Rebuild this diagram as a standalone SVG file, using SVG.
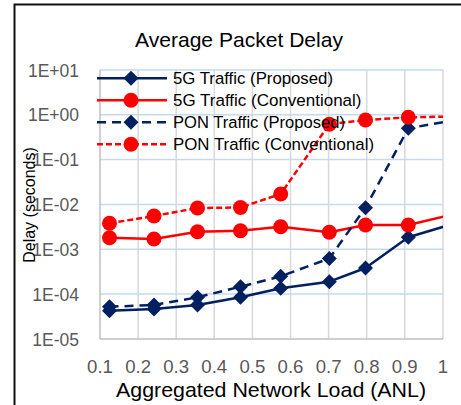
<svg xmlns="http://www.w3.org/2000/svg" width="461" height="405" viewBox="0 0 461 405">
  <style>
    text { font-family: "Liberation Sans", Arial, sans-serif; }
    .title { font-size: 21px; fill: #000; }
    .ytick { font-size: 17.5px; fill: #595959; text-anchor: end; }
    .xtick { font-size: 18.6px; fill: #595959; text-anchor: middle; }
    .axtitle { fill: #000; }
    .leg { font-size: 16.7px; fill: #000; }
    .hgrid { stroke: #c5d9f0; stroke-width: 1.5; }
    .vgrid { stroke: #d9d9d9; stroke-width: 1.5; }
    .axis { stroke: #bfbfbf; stroke-width: 1.5; }
    .s-navy { fill: none; stroke: #002060; stroke-width: 2.5; stroke-linejoin: round; }
    .s-red { fill: none; stroke: #ff0000; stroke-width: 2.5; stroke-linejoin: round; }
    .dash-navy { stroke-dasharray: 9 6; }
    .dash-red { stroke-dasharray: 6 3; }
  </style>
  <defs>
    <clipPath id="plot-clip">
      <rect x="100" y="60" width="343" height="290"/>
    </clipPath>
    <marker id="diamond" viewBox="-8 -8 16 16" markerWidth="16" markerHeight="16" refX="0" refY="0" markerUnits="userSpaceOnUse">
      <path d="M0,-7.5 L7.5,0 L0,7.5 L-7.5,0 Z" fill="#002060"/>
    </marker>
    <marker id="dot" viewBox="-8 -8 16 16" markerWidth="16" markerHeight="16" refX="0" refY="0" markerUnits="userSpaceOnUse">
      <circle cx="0" cy="0" r="7.5" fill="#ff0000"/>
    </marker>
  </defs>

  <rect width="461" height="405" fill="#fff"/>

  <!-- chart frame (continues past the right and bottom edges) -->
  <path d="M14.5,405 V4.5 H461" fill="none" stroke="#111" stroke-width="2"/>

  <!-- title -->
  <text class="title" x="135" y="47" textLength="208" lengthAdjust="spacingAndGlyphs">Average Packet Delay</text>

  <!-- grid -->
  <g id="grid">
    <line class="vgrid" x1="138.1" y1="70" x2="138.1" y2="339"/>
    <line class="vgrid" x1="176.2" y1="70" x2="176.2" y2="339"/>
    <line class="vgrid" x1="214.3" y1="70" x2="214.3" y2="339"/>
    <line class="vgrid" x1="252.4" y1="70" x2="252.4" y2="339"/>
    <line class="vgrid" x1="290.5" y1="70" x2="290.5" y2="339"/>
    <line class="vgrid" x1="328.6" y1="70" x2="328.6" y2="339"/>
    <line class="vgrid" x1="366.7" y1="70" x2="366.7" y2="339"/>
    <line class="vgrid" x1="404.8" y1="70" x2="404.8" y2="339"/>
    <line class="vgrid" x1="443" y1="70" x2="443" y2="339"/>
    <line class="hgrid" x1="100" y1="70" x2="443" y2="70"/>
    <line class="hgrid" x1="100" y1="114.8" x2="443" y2="114.8"/>
    <line class="hgrid" x1="100" y1="159.6" x2="443" y2="159.6"/>
    <line class="hgrid" x1="100" y1="204.5" x2="443" y2="204.5"/>
    <line class="hgrid" x1="100" y1="249.3" x2="443" y2="249.3"/>
    <line class="hgrid" x1="100" y1="294.1" x2="443" y2="294.1"/>
    <line class="axis" x1="100" y1="339" x2="443" y2="339"/>
    <line class="axis" x1="100" y1="70" x2="100" y2="339"/>
  </g>

  <!-- y axis tick labels -->
  <g id="y-axis">
    <text class="ytick" x="79" y="76.5">1E+01</text>
    <text class="ytick" x="79" y="121.3">1E+00</text>
    <text class="ytick" x="79" y="166.1">1E-01</text>
    <text class="ytick" x="79" y="211">1E-02</text>
    <text class="ytick" x="79" y="255.8">1E-03</text>
    <text class="ytick" x="79" y="300.6">1E-04</text>
    <text class="ytick" x="79" y="345.5">1E-05</text>
    <text class="axtitle" font-size="16" transform="translate(35,205) rotate(-90)" text-anchor="middle">Delay (seconds)</text>
  </g>

  <!-- x axis tick labels -->
  <g id="x-axis">
    <text class="xtick" x="100" y="373">0.1</text>
    <text class="xtick" x="138.1" y="373">0.2</text>
    <text class="xtick" x="176.2" y="373">0.3</text>
    <text class="xtick" x="214.3" y="373">0.4</text>
    <text class="xtick" x="252.4" y="373">0.5</text>
    <text class="xtick" x="290.5" y="373">0.6</text>
    <text class="xtick" x="328.6" y="373">0.7</text>
    <text class="xtick" x="366.7" y="373">0.8</text>
    <text class="xtick" x="404.8" y="373">0.9</text>
    <text class="xtick" x="443" y="373">1</text>
    <text class="axtitle" font-size="21" x="116" y="397" textLength="310" lengthAdjust="spacingAndGlyphs">Aggregated Network Load (ANL)</text>
  </g>

  <!-- data series -->
  <g id="connectors" clip-path="url(#plot-clip)">
    <polyline id="series-5g-proposed" class="s-navy" marker-mid="url(#diamond)" marker-start="url(#diamond)"
      points="109.5,310.7 154,309 197.5,305 240.5,297.3 280.7,288.3 329.3,281.7 365.5,268 408.3,237.3 446,226"/>
    <polyline id="series-5g-conventional" class="s-red" marker-mid="url(#dot)" marker-start="url(#dot)"
      points="109.5,237.7 154,239 197.5,231.7 240.5,230.7 280.7,226.7 329.3,232.3 365.5,225 408.3,225 446,216"/>
    <polyline id="series-pon-proposed" class="s-navy dash-navy" marker-mid="url(#diamond)" marker-start="url(#diamond)"
      points="109.5,306.7 154,305 197.5,297.3 240.5,286.7 280.7,276.3 329.3,258.5 365.5,207.7 408.3,128.3 446,121.7"/>
    <polyline id="series-pon-conventional" class="s-red dash-red" marker-mid="url(#dot)" marker-start="url(#dot)"
      points="109.5,223.3 154,216 197.5,208 240.5,207.5 280.7,194 329.3,124.2 365.5,120 408.3,117.3 446,116.7"/>
  </g>

  <!-- legend -->
  <g id="legend">
    <g id="legend-5g-proposed">
      <line class="s-navy" x1="97" y1="78.3" x2="167" y2="78.3"/>
      <path d="M131,70.8 L138.5,78.3 L131,85.8 L123.5,78.3 Z" fill="#002060"/>
      <text class="leg" x="173" y="84" textLength="160" lengthAdjust="spacingAndGlyphs">5G Traffic (Proposed)</text>
    </g>
    <g id="legend-5g-conventional">
      <line class="s-red" x1="97" y1="100.3" x2="167" y2="100.3"/>
      <circle cx="131" cy="100.3" r="7.5" fill="#ff0000"/>
      <text class="leg" x="173" y="106" textLength="188.5" lengthAdjust="spacingAndGlyphs">5G Traffic (Conventional)</text>
    </g>
    <g id="legend-pon-proposed">
      <line class="s-navy dash-navy" x1="97" y1="122.3" x2="167" y2="122.3"/>
      <path d="M131,114.8 L138.5,122.3 L131,129.8 L123.5,122.3 Z" fill="#002060"/>
      <text class="leg" x="173" y="128" textLength="172" lengthAdjust="spacingAndGlyphs">PON Traffic (Proposed)</text>
    </g>
    <g id="legend-pon-conventional">
      <line class="s-red dash-red" x1="97" y1="144.3" x2="167" y2="144.3"/>
      <circle cx="131" cy="144.3" r="7.5" fill="#ff0000"/>
      <text class="leg" x="173" y="150" textLength="201" lengthAdjust="spacingAndGlyphs">PON Traffic (Conventional)</text>
    </g>
  </g>
</svg>
